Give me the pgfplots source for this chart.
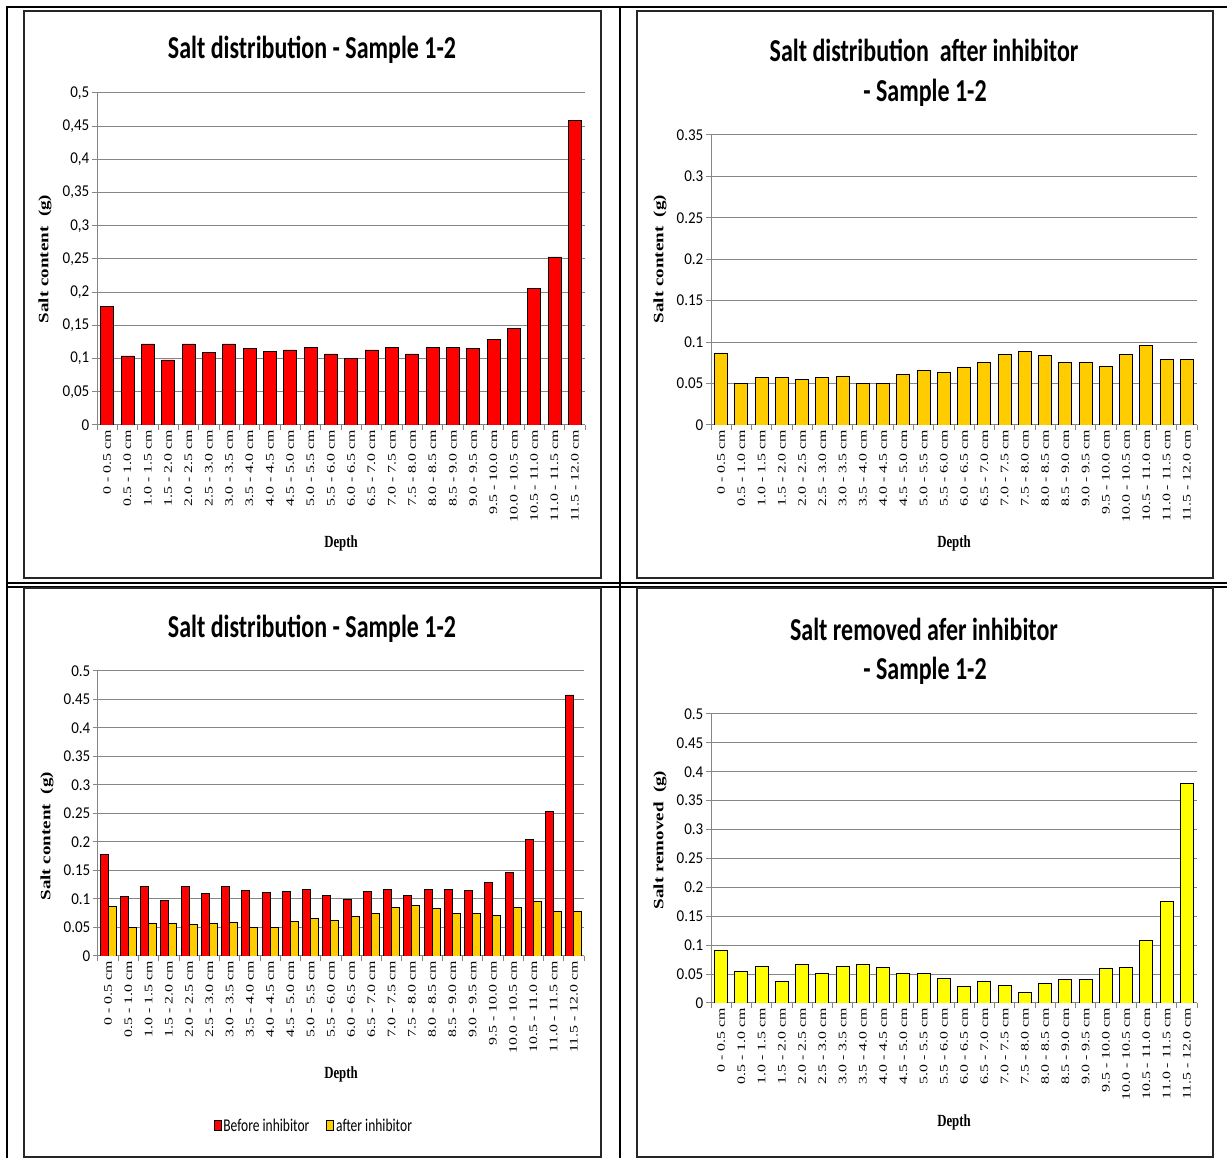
\documentclass[border=0pt]{standalone}
\usepackage{graphicx}
\usepackage{fontspec}
\setmainfont{Liberation Serif}
\newfontfamily\calfont{Carlito}
\usepackage{pgfplots}
\usepackage{pgfplotstable}
\pgfplotsset{compat=1.18}

\definecolor{barred}{HTML}{FF0000}
\definecolor{bargold}{HTML}{FFCC00}
\definecolor{baryel}{HTML}{FFFF00}
\definecolor{gridgray}{HTML}{868686}

% salt content per depth slice (g)
\pgfplotstableread{
i before after removed
0  0.178 0.087 0.091
1  0.104 0.050 0.054
2  0.122 0.057 0.064
3  0.098 0.057 0.038
4  0.122 0.055 0.066
5  0.109 0.057 0.051
6  0.122 0.059 0.064
7  0.115 0.050 0.066
8  0.111 0.050 0.061
9  0.113 0.061 0.051
10 0.117 0.066 0.051
11 0.107 0.063 0.043
12 0.100 0.070 0.029
13 0.113 0.075 0.038
14 0.117 0.085 0.031
15 0.107 0.089 0.018
16 0.117 0.084 0.034
17 0.117 0.075 0.041
18 0.115 0.075 0.041
19 0.129 0.071 0.059
20 0.146 0.085 0.061
21 0.205 0.096 0.109
22 0.253 0.079 0.175
23 0.458 0.079 0.380
}\saltdata

\pgfplotsset{
  depthaxis/.style={
    scale only axis, anchor=south west,
    xmin=-0.5, xmax=23.5, ymin=0,
    axis x line*=bottom, axis y line*=left,
    axis line style={gridgray, line width=1pt},
    ymajorgrids, grid style={gridgray, line width=1pt},
    xtick={0,...,23},
    xticklabels={0 - 0.5 cm,0.5 - 1.0 cm,1.0 - 1.5 cm,1.5 - 2.0 cm,2.0 - 2.5 cm,
      2.5 - 3.0 cm,3.0 - 3.5 cm,3.5 - 4.0 cm,4.0 - 4.5 cm,4.5 - 5.0 cm,5.0 - 5.5 cm,
      5.5 - 6.0 cm,6.0 - 6.5 cm,6.5 - 7.0 cm,7.0 - 7.5 cm,7.5 - 8.0 cm,8.0 - 8.5 cm,
      8.5 - 9.0 cm,9.0 - 9.5 cm,9.5 - 10.0 cm,10.0 - 10.5 cm,10.5 - 11.0 cm,
      11.0 - 11.5 cm,11.5 - 12.0 cm},
    major x tick style={draw=none},
    minor xtick={-0.5,0.5,...,23.5},
    tick align=outside, major tick length=5pt, minor tick length=5pt,
    tick style={gridgray, line width=1pt},
    x tick label style={rotate=90, xscale=1.38, anchor=east, inner sep=0pt,
      font=\fontsize{11.5}{11.5}\selectfont},
    y tick label style={anchor=east, inner sep=0pt, yscale=1.1, xshift=-2.5pt,
      font=\calfont\fontsize{15}{15}\selectfont},
    xlabel={Depth},
    every axis y label/.style={rotate=90, xscale=1.33, anchor=center,
      font=\bfseries\fontsize{14.3}{14.3}\selectfont},
    every axis x label/.style={anchor=center, yscale=1.33,
      font=\bfseries\fontsize{12.8}{12.8}\selectfont},
    ybar, bar width=13pt,
  },
  ticks05/.style={ytick={0,0.05,0.1,0.15,0.2,0.25,0.3,0.35,0.4,0.45,0.5},
    yticklabels={0,0.05,0.1,0.15,0.2,0.25,0.3,0.35,0.4,0.45,0.5}},
}

\tikzset{
  ttl/.style={font=\calfont\bfseries\fontsize{24}{24}\selectfont, yscale=1.33, inner sep=0pt},
  frame/.style={draw=black!85, line width=2pt},
}

\begin{document}
\begin{tikzpicture}
\useasboundingbox (0pt,0pt) rectangle (1227pt,1158pt);

% table rules
\draw[line width=2.5pt] (6pt,1151pt) -- (1227pt,1151pt);
\draw[line width=2.5pt] (7pt,0pt) -- (7pt,1152pt);
\draw[line width=2.2pt] (620pt,0pt) -- (620pt,1152pt);
\draw[line width=1.6pt] (6pt,574.7pt) -- (1227pt,574.7pt);
\draw[line width=1.6pt] (6pt,571.2pt) -- (1227pt,571.2pt);

% chart frames
\draw[frame] (24pt,580pt) rectangle (601pt,1147pt);
\draw[frame] (637pt,580pt) rectangle (1213pt,1147pt);
\draw[frame] (24pt,1pt) rectangle (601pt,570pt);
\draw[frame] (637pt,1pt) rectangle (1213pt,570pt);

% titles
\node[ttl] at (312pt,1108pt) {Salt distribution - Sample 1-2};
\node[ttl] at (924pt,1108pt) {Salt distribution\ \ after inhibitor};
\node[ttl] at (925pt,1065pt) {- Sample 1-2};
\node[ttl] at (312pt,529pt) {Salt distribution - Sample 1-2};
\node[ttl] at (924pt,529pt) {Salt removed afer inhibitor};
\node[ttl] at (925pt,487pt) {- Sample 1-2};

% before inhibitor
\begin{axis}[depthaxis, at={(97pt,733pt)}, width=488pt, height=332pt,
  ymax=0.5, ytick={0,0.05,0.1,0.15,0.2,0.25,0.3,0.35,0.4,0.45,0.5},
  yticklabels={{0},{0,05},{0,1},{0,15},{0,2},{0,25},{0,3},{0,35},{0,4},{0,45},{0,5}},
  ylabel={Salt content\ \ (g)},
  ylabel style={at={(axis description cs:-0.1066,0.5)}},
  xlabel style={at={(axis description cs:0.5,-0.358)}}]
\addplot[fill=barred, draw=black, line width=0.8pt] table[x=i, y=before] {\saltdata};
\end{axis}

% after inhibitor
\begin{axis}[depthaxis, at={(711pt,733pt)}, width=486pt, height=290pt,
  ymax=0.35, ytick={0,0.05,0.1,0.15,0.2,0.25,0.3,0.35},
  yticklabels={0,0.05,0.1,0.15,0.2,0.25,0.3,0.35},
  ylabel={Salt content\ \ (g)},
  ylabel style={at={(axis description cs:-0.105,0.572)}},
  xlabel style={at={(axis description cs:0.5,-0.41)}}]
\addplot[fill=bargold, draw=black, line width=0.8pt] table[x=i, y=after] {\saltdata};
\end{axis}

% before and after
\begin{axis}[depthaxis, ticks05, at={(98pt,202pt)}, width=486pt, height=285pt,
  ymax=0.5, bar width=8pt, ybar=0pt,
  ylabel={Salt content\ \ (g)},
  ylabel style={at={(axis description cs:-0.105,0.42)}},
  xlabel style={at={(axis description cs:0.5,-0.417)}},
  legend style={draw=none, at={(axis description cs:0.444,-0.596)}, anchor=center,
    legend columns=2, font=\calfont\fontsize{13.5}{13.5}\selectfont,
    /tikz/every even column/.append style={column sep=15pt}},
  legend image code/.code={\draw[#1, line width=0.8pt] (0pt,-5pt) rectangle (7pt,5pt);}]
\addplot[fill=barred, draw=black, line width=0.8pt] table[x=i, y=before] {\saltdata};
\addlegendentry{\scalebox{1}[1.33]{Before inhibitor}}
\addplot[fill=bargold, draw=black, line width=0.8pt] table[x=i, y=after] {\saltdata};
\addlegendentry{\scalebox{1}[1.33]{after inhibitor}}
\end{axis}

% removed
\begin{axis}[depthaxis, ticks05, at={(711pt,155pt)}, width=486pt, height=289pt,
  ymax=0.5,
  ylabel={Salt removed\ \ (g)},
  ylabel style={at={(axis description cs:-0.105,0.564)}},
  xlabel style={at={(axis description cs:0.5,-0.412)}}]
\addplot[fill=baryel, draw=black, line width=0.8pt] table[x=i, y=removed] {\saltdata};
\end{axis}
\end{tikzpicture}
\end{document}
